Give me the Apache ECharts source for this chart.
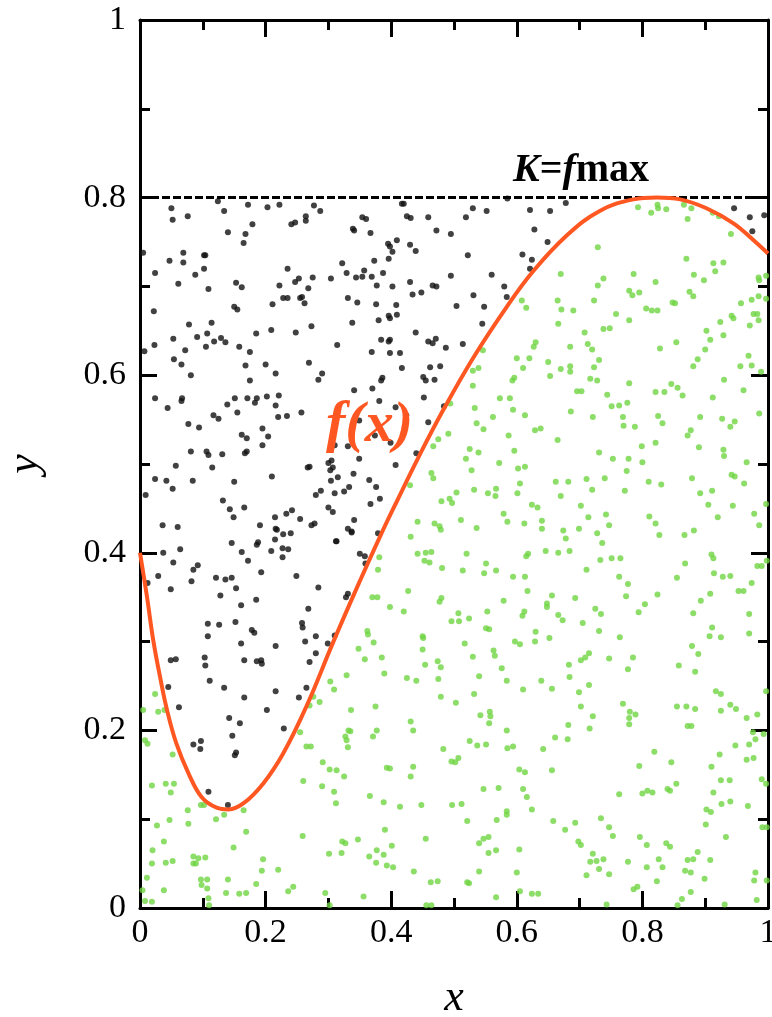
<!DOCTYPE html>
<html>
<head>
<meta charset="utf-8">
<script src="https://cdn.jsdelivr.net/npm/echarts@6/dist/echarts.min.js"></script>
<style>
  html, body { margin: 0; padding: 0; background: #fff; }
  #chart { width: 772px; height: 1017px; }
</style>
</head>
<body>
<div id="chart"></div>
<script>
// f(x)
const curvePoints = [
  [0.000,0.400],[0.011,0.351],[0.021,0.302],[0.032,0.260],[0.043,0.223],[0.058,0.185],
  [0.077,0.152],[0.098,0.125],[0.122,0.113],[0.141,0.111],[0.165,0.118],[0.196,0.140],
  [0.228,0.174],[0.265,0.227],[0.308,0.300],[0.350,0.368],[0.382,0.418],[0.409,0.458],
  [0.443,0.507],[0.483,0.561],[0.531,0.620],[0.584,0.677],[0.626,0.717],[0.679,0.757],
  [0.732,0.785],[0.786,0.798],[0.823,0.800],[0.860,0.798],[0.902,0.788],[0.945,0.771],
  [0.977,0.752],[1.000,0.737]
];
const kLevel = 0.8;
const tickLabels = ['0', '0.2', '0.4', '0.6', '0.8', '1'];

// rejected points (above f)
const blackDots = [
  [.050,.788],[.052,.775],[.076,.779],[.124,.796],[.134,.785],[.172,.792],[.203,.789],[.222,.792],[.277,.791],[.287,.785],
  [.140,.761],[.168,.759],[.165,.749],[.179,.770],[.241,.770],[.247,.772],[.264,.774],[.264,.779],[.339,.765],[.341,.763],
  [.354,.778],[.360,.776],[.367,.760],[.047,.729],[.069,.738],[.069,.727],[.102,.735],[.104,.735],[.102,.720],[.088,.713],
  [.061,.703],[.024,.715],[.005,.738],[.109,.697],[.153,.704],[.162,.699],[.235,.720],[.222,.701],[.247,.705],[.253,.709],
  [.275,.710],[.268,.698],[.304,.709],[.322,.726],[.329,.715],[.344,.710],[.354,.711],[.357,.718],[.369,.711],[.373,.729],
  [.377,.701],[.387,.715],[.395,.748],[.396,.731],[.022,.672],[.150,.677],[.155,.674],[.211,.680],[.228,.687],[.235,.687],
  [.255,.687],[.258,.688],[.262,.681],[.331,.687],[.346,.682],[.376,.680],[.380,.662],[.396,.667],[.338,.659],[.078,.657],
  [.114,.659],[.053,.641],[.091,.643],[.107,.647],[.118,.638],[.129,.642],[.136,.637],[.158,.632],[.185,.647],[.209,.651],
  [.248,.648],[.273,.655],[.314,.634],[.384,.640],[.396,.638],[.023,.634],[.007,.627],[.072,.628],[.054,.618],[.066,.612],
  [.081,.600],[.105,.632],[.168,.611],[.175,.626],[.175,.594],[.200,.612],[.216,.602],[.269,.614],[.284,.595],[.290,.602],
  [.369,.626],[.386,.597],[.384,.594],[.341,.583],[.370,.585],[.024,.574],[.067,.574],[.151,.574],[.171,.574],[.186,.574],
  [.202,.576],[.221,.577],
  [.417,.793],[.420,.793],[.425,.779],[.431,.777],[.459,.778],[.472,.763],[.495,.759],[.519,.778],[.530,.788],[.552,.785],
  [.585,.799],[.621,.786],[.653,.785],[.678,.794],[.628,.764],[.649,.750],[.398,.745],[.409,.752],[.402,.739],[.430,.747],
  [.439,.740],[.522,.735],[.609,.736],[.624,.730],[.621,.720],[.495,.712],[.560,.713],[.402,.700],[.430,.705],[.434,.691],
  [.448,.693],[.466,.701],[.472,.700],[.580,.700],[.584,.688],[.531,.690],[.408,.679],[.409,.668],[.398,.664],[.504,.678],
  [.548,.677],[.545,.658],[.439,.648],[.398,.640],[.398,.625],[.459,.638],[.466,.636],[.471,.641],[.487,.631],[.514,.635],
  [.414,.625],[.417,.608],[.462,.609],[.478,.610],[.451,.598],[.455,.594],[.469,.595],[.452,.575],[.946,.788],[.971,.778],
  [.975,.762],[.994,.780],
  [.044,.563],[.066,.571],[.077,.545],[.094,.541],[.117,.555],[.125,.551],[.139,.567],[.155,.558],[.183,.569],[.195,.540],
  [.204,.531],[.216,.566],[.220,.553],[.234,.554],[.162,.533],[.170,.529],[.195,.521],[.170,.514],[.167,.512],[.081,.514],
  [.106,.514],[.109,.510],[.131,.511],[.115,.496],[.084,.481],[.057,.498],[.024,.483],[.042,.481],[.052,.472],[.009,.465],
  [.150,.480],[.166,.451],[.132,.459],[.143,.449],[.149,.440],[.210,.486],[.060,.429],[.036,.431],[.191,.431],[.215,.440],
  [.233,.444],[.242,.448],[.216,.427],[.228,.421],
  [.381,.571],[.407,.564],[.424,.555],[.484,.565],[.459,.547],[.349,.549],[.374,.532],[.399,.524],[.331,.520],[.310,.521],
  [.257,.558],[.305,.504],[.300,.501],[.303,.493],[.307,.496],[.267,.496],[.270,.497],[.349,.506],[.340,.489],[.315,.485],
  [.304,.481],[.310,.467],[.325,.469],[.333,.474],[.365,.482],[.376,.474],[.382,.461],[.367,.455],[.407,.499],[.440,.512],
  [.280,.465],[.288,.470],[.300,.451],[.307,.446],[.341,.437],[.331,.427],[.337,.424],[.312,.413],[.273,.431],[.278,.433],
  [.379,.422],[.350,.399],[.358,.396],[.255,.438],
  [.037,.400],[.064,.404],[.053,.389],[.085,.381],[.092,.386],[.082,.368],[.029,.374],[.012,.366],[.049,.359],[.121,.372],
  [.136,.370],[.146,.372],[.128,.352],[.153,.360],[.146,.411],[.162,.401],[.172,.391],[.186,.409],[.188,.412],[.193,.378],
  [.209,.402],[.215,.415],[.227,.405],[.236,.404],[.227,.395],[.240,.422],[.218,.426],[.249,.374],[.185,.347],[.161,.341],
  [.284,.361],[.313,.413],[.337,.423],[.359,.388],[.331,.354],[.328,.350],[.268,.337],[.108,.320],[.126,.319],[.152,.322],
  [.178,.313],[.182,.310],[.161,.298],[.186,.278],[.193,.279],[.194,.275],[.166,.279],[.216,.295],[.258,.321],[.259,.316],
  [.263,.300],[.280,.306],[.299,.298],[.310,.307],[.280,.287],[.270,.277],[.103,.282],[.104,.273],[.108,.306],[.049,.279],
  [.057,.280],[.111,.256],[.134,.248],[.166,.237],[.216,.244],[.265,.248],[.253,.237],[.202,.223],[.229,.202],[.142,.214],
  [.159,.208],[.147,.194],[.153,.175],[.151,.172],[.085,.184],[.097,.188],[.096,.179],[.045,.249],[.062,.226],[.109,.131],
  [.140,.116]
];

// accepted points (below f)
const greenDots = [
  [.533,.563],[.594,.561],[.613,.555],[.562,.553],[.686,.559],[.721,.553],[.751,.565],[.763,.566],[.776,.569],[.769,.553],
  [.770,.543],[.788,.542],[.825,.554],[.832,.546],[.892,.553],[.927,.551],[.947,.548],[.940,.542],[.986,.557],[.536,.546],
  [.547,.539],[.587,.532],[.629,.538],[.638,.540],[.665,.527],[.821,.524],[.872,.532],[.877,.538],[.890,.519],[.929,.516],
  [.930,.509],[.966,.502],[.942,.488],[.947,.486],[.962,.478],[.491,.534],[.467,.520],[.475,.528],[.525,.517],[.539,.513],
  [.519,.506],[.572,.501],[.596,.515],[.602,.495],[.613,.497],[.731,.513],[.753,.506],[.778,.506],[.775,.492],[.800,.502],
  [.799,.520],[.464,.490],[.467,.484],[.528,.493],[.605,.478],[.662,.480],[.682,.480],[.711,.483],[.740,.484],[.772,.470],
  [.810,.480],[.830,.477],[.879,.484],[.892,.467],[.911,.470],[.920,.440],[.944,.453],[.978,.444],[.986,.431],[.997,.455],
  [.480,.458],[.493,.461],[.497,.456],[.504,.468],[.430,.476],[.532,.471],[.554,.467],[.566,.464],[.567,.472],[.601,.467],
  [.624,.454],[.633,.451],[.670,.464],[.702,.453],[.720,.471],[.579,.444],[.585,.435],[.612,.433],[.640,.436],[.640,.427],
  [.674,.425],[.678,.416],[.699,.427],[.714,.440],[.728,.422],[.736,.411],[.742,.443],[.747,.431],[.811,.441],[.821,.433],
  [.827,.420],[.867,.420],[.882,.425],[.905,.454],[.511,.437],[.536,.428],[.469,.433],[.477,.430],[.479,.426],[.442,.435],
  [.431,.418],[.455,.400],[.464,.401],[.453,.391],[.461,.389],[.442,.399],[.481,.383],[.520,.399],[.514,.380],[.551,.388],
  [.567,.380],[.548,.377],[.594,.373],[.613,.373],[.618,.399],[.615,.396],[.646,.402],[.666,.400],[.684,.402],[.711,.381],
  [.733,.392],[.751,.394],[.765,.394],[.763,.373],[.777,.365],[.855,.372],[.868,.388],[.910,.398],[.913,.394],[.914,.377],
  [.928,.373],[.940,.374],[.953,.357],[.961,.357],[.974,.366],[.983,.385],[.990,.385],[.998,.391],
  [.398,.339],[.427,.357],[.420,.334],[.477,.345],[.480,.349],[.496,.323],[.507,.332],[.508,.323],[.524,.326],[.553,.334],
  [.551,.315],[.556,.314],[.579,.346],[.609,.329],[.612,.334],[.617,.357],[.648,.343],[.648,.339],[.656,.352],[.666,.330],
  [.673,.324],[.693,.349],[.705,.321],[.725,.337],[.734,.331],[.774,.351],[.794,.333],[.804,.342],[.824,.353],[.881,.332],
  [.893,.346],[.908,.354],[.911,.316],[.970,.331],[.970,.309],[.450,.306],[.451,.304],[.450,.291],[.517,.298],[.530,.283],
  [.563,.290],[.565,.284],[.597,.300],[.605,.297],[.629,.300],[.630,.311],[.652,.304],[.702,.279],[.709,.282],[.715,.287],
  [.731,.312],[.747,.281],[.764,.305],[.785,.282],[.777,.269],[.858,.273],[.879,.295],[.884,.266],[.889,.286],[.907,.306],
  [.925,.305],
  [.454,.274],[.474,.278],[.479,.271],[.425,.259],[.440,.256],[.475,.258],[.479,.238],[.503,.231],[.532,.241],[.540,.261],
  [.576,.270],[.584,.256],[.610,.246],[.639,.256],[.656,.247],[.683,.274],[.684,.260],[.699,.243],[.702,.227],[.715,.251],
  [.716,.202],[.721,.216],[.769,.230],[.779,.214],[.779,.207],[.780,.221],[.789,.218],[.682,.206],[.681,.190],[.661,.192],
  [.642,.179],[.557,.221],[.558,.216],[.556,.208],[.584,.200],[.542,.217],[.525,.188],[.537,.183],[.551,.184],[.585,.180],
  [.594,.182],[.431,.210],[.435,.200],[.483,.179],[.496,.165],[.502,.164],[.507,.169],[.855,.227],[.870,.227],[.884,.224],
  [.872,.205],[.878,.205],[.917,.244],[.925,.241],[.940,.229],[.949,.224],[.925,.222],[.966,.214],[.983,.218],[.997,.244],
  [.976,.198],[.980,.190],[.993,.196],[.948,.183],[.970,.184],[.977,.169],[.966,.167],[.923,.173],
  [.398,.157],[.431,.148],[.435,.159],[.604,.156],[.613,.153],[.656,.155],[.795,.160],[.819,.176],[.846,.164],[.910,.159],
  [.925,.144],[.939,.144],[.990,.145],[.997,.140],[.547,.134],[.571,.135],[.610,.134],[.616,.125],[.763,.128],[.800,.129],
  [.808,.132],[.816,.130],[.840,.134],[.844,.132],[.854,.140],[.913,.130],[.926,.117],[.940,.120],[.968,.115],[.414,.114],
  [.448,.116],[.497,.116],[.512,.117],[.624,.111],[.584,.109],[.584,.105],
  [.521,.098],[.568,.099],[.658,.098],[.677,.088],[.693,.096],[.734,.101],[.747,.091],[.753,.081],[.902,.111],[.909,.108],
  [.901,.094],[.933,.080],[.991,.091],[.998,.091],[.455,.078],[.401,.070],[.540,.073],[.547,.078],[.555,.080],[.555,.062],
  [.567,.065],[.604,.066],[.698,.075],[.702,.071],[.721,.061],[.727,.053],[.717,.052],[.738,.055],[.711,.037],[.731,.044],
  [.747,.038],[.796,.080],[.807,.071],[.777,.052],[.826,.055],[.832,.046],[.807,.046],[.838,.073],[.844,.069],[.823,.030],
  [.872,.054],[.881,.055],[.888,.063],[.868,.042],[.877,.040],[.899,.033],[.908,.054],[.980,.040],[.978,.031],[.998,.031],
  [.982,.009],[.403,.046],[.436,.041],[.463,.029],[.474,.030],[.521,.029],[.524,.028],[.540,.041],[.600,.040],[.605,.019],
  [.624,.016],[.634,.016],[.567,.012],[.456,.003],[.464,.003],[.743,.004],[.786,.021],[.792,.024],[.856,.003],[.863,.010],
  [.877,.018],[.931,.004],
  [.793,.789],[.814,.783],[.824,.792],[.825,.788],[.838,.787],[.866,.792],[.878,.788],[.872,.776],[.912,.783],[.922,.779],
  [.941,.759],[.729,.744],[.870,.731],[.913,.726],[.929,.727],[.916,.717],[.882,.713],[.898,.707],[.821,.705],[.786,.714],
  [.738,.709],[.729,.701],[.670,.714],[.779,.695],[.784,.690],[.795,.693],[.875,.694],[.881,.689],[.985,.710],[.986,.707],
  [.997,.712],[.974,.685],[.985,.689],[.997,.686],[.608,.684],[.615,.676],[.665,.684],[.671,.674],[.690,.673],[.723,.684],
  [.758,.669],[.779,.662],[.806,.675],[.815,.673],[.824,.673],[.848,.682],[.852,.681],[.942,.667],[.945,.664],[.957,.681],
  [.977,.669],[.983,.669],[.971,.656],[.985,.662],[.924,.660],[.902,.650],[.929,.645],[.908,.640],[.900,.629],[.666,.658],
  [.708,.648],[.738,.652],[.748,.653],[.630,.637],[.627,.632],[.685,.632],[.713,.635],[.720,.629],[.731,.617],[.828,.630],
  [.854,.637],[.546,.628],[.600,.619],[.620,.619],[.610,.608],[.650,.615],[.653,.599],[.670,.607],[.685,.610],[.685,.604],
  [.723,.609],[.717,.596],[.728,.594],[.539,.608],[.530,.605],[.593,.594],[.596,.597],[.530,.588],[.696,.582],[.703,.582],
  [.744,.578],[.779,.591],[.821,.581],[.835,.581],[.846,.590],[.856,.586],[.864,.577],[.881,.610],[.888,.618],[.912,.575],
  [.956,.610],[.969,.622],[.974,.611],[.989,.604],[.961,.583],[.573,.574],[.589,.574],[.930,.595],[.494,.568],
  [.024,.241],[.005,.223],[.029,.221],[.039,.223],[.008,.189],[.012,.185],[.052,.173],[.019,.138],[.041,.140],[.054,.140],
  [.049,.130],[.097,.116],[.102,.116],[.076,.110],[.027,.093],[.047,.099],[.077,.095],[.121,.100],[.134,.105],[.165,.110],
  [.169,.086],[.038,.075],[.020,.065],[.149,.068],[.085,.058],[.093,.056],[.085,.050],[.089,.050],[.104,.057],[.041,.051],
  [.052,.053],[.019,.050],[.011,.034],[.097,.032],[.107,.032],[.098,.026],[.107,.022],[.140,.032],[.196,.055],[.194,.042],
  [.220,.043],[.185,.027],[.137,.017],[.158,.016],[.169,.017],[.236,.019],[.244,.024],[.038,.020],[.004,.020],[.008,.008],
  [.019,.007],[.109,.011],[.110,.003],[.295,.017],[.302,.003],[.356,.013],[.255,.198],[.276,.238],[.270,.228],[.286,.232],
  [.265,.182],[.272,.182],[.260,.143],[.259,.081],[.303,.255],[.309,.246],[.329,.262],[.348,.292],[.358,.280],[.362,.312],
  [.363,.308],[.372,.299],[.385,.282],[.379,.381],[.381,.395],[.370,.350],[.378,.350],[.389,.264],[.375,.227],[.377,.200],
  [.371,.193],[.336,.223],[.327,.193],[.329,.189],[.332,.200],[.335,.199],[.331,.181],[.291,.164],[.302,.156],[.313,.155],
  [.325,.148],[.290,.137],[.309,.131],[.312,.118],[.366,.126],[.390,.088],[.347,.077],[.322,.075],[.327,.073],[.301,.061],
  [.321,.062],[.365,.058],[.377,.065],[.388,.060],[.376,.051],[.393,.048],[.393,.158],[.388,.119]
];

const kLine = [[0, kLevel], [1, kLevel]];

const serif = 'Liberation Serif';
function axisCommon(showLabel) {
  return {
    type: 'value', min: 0, max: 1, interval: 0.2,
    axisLine: { show: true, onZero: false, lineStyle: { color: '#000', width: 3 } },
    axisTick: { show: true, inside: true, length: 17, lineStyle: { color: '#000', width: 3 } },
    minorTick: { show: true, splitNumber: 2, length: 10, lineStyle: { color: '#000', width: 3 } },
    splitLine: { show: false },
    axisLabel: {
      show: showLabel, fontFamily: serif, fontSize: 34, color: '#000',
      formatter: v => tickLabels[Math.round(v / 0.2)]
    }
  };
}

const chart = echarts.init(document.getElementById('chart'));
chart.setOption({
  animation: false,
  backgroundColor: '#fff',
  grid: { left: 140, right: 4, top: 20, bottom: 109, containLabel: false, outerBoundsMode: 'none' },
  xAxis: [
    Object.assign(axisCommon(true), {
      position: 'bottom',
      name: 'x', nameLocation: 'middle', nameGap: 68,
      nameTextStyle: { fontFamily: serif, fontStyle: 'italic', fontSize: 44, color: '#000' }
    }),
    Object.assign(axisCommon(false), { position: 'top' })
  ],
  yAxis: [
    Object.assign(axisCommon(true), {
      position: 'left',
      axisLabel: Object.assign(axisCommon(true).axisLabel, { margin: 14 }),
      name: 'y', nameLocation: 'middle', nameGap: 93,
      nameTextStyle: { fontFamily: serif, fontStyle: 'italic', fontSize: 44, color: '#000' }
    }),
    Object.assign(axisCommon(false), { position: 'right' })
  ],
  series: [
    {
      type: 'scatter', data: blackDots, symbolSize: 6,
      itemStyle: { color: '#111' }, z: 2
    },
    {
      type: 'scatter', data: greenDots, symbolSize: 6,
      itemStyle: { color: '#70d443' }, z: 2
    },
    {
      type: 'line', data: kLine, symbol: 'none',
      lineStyle: { color: '#000', width: 3, type: [8, 3] }, z: 3
    },
    {
      type: 'line', data: curvePoints, smooth: 0.4, symbol: 'none',
      lineStyle: { color: '#ff5722', width: 4 }, z: 4
    }
  ],
  graphic: [
    {
      type: 'text', left: 513, top: 151, z: 10,
      style: {
        text: '{k|K}{e|=}{f|f}{m|max}',
        rich: {
          k: { font: 'italic bold 40px "Liberation Serif"', fill: '#000' },
          e: { font: 'bold 40px "Liberation Serif"', fill: '#000' },
          f: { font: 'italic bold 40px "Liberation Serif"', fill: '#000' },
          m: { font: 'bold 40px "Liberation Serif"', fill: '#000' }
        }
      }
    },
    {
      type: 'text', left: 326, top: 397, z: 10,
      style: {
        text: 'f(x)', font: 'italic bold 58px "Liberation Serif"',
        fill: '#ff5722'
      }
    }
  ]
});
</script>
</body>
</html>
